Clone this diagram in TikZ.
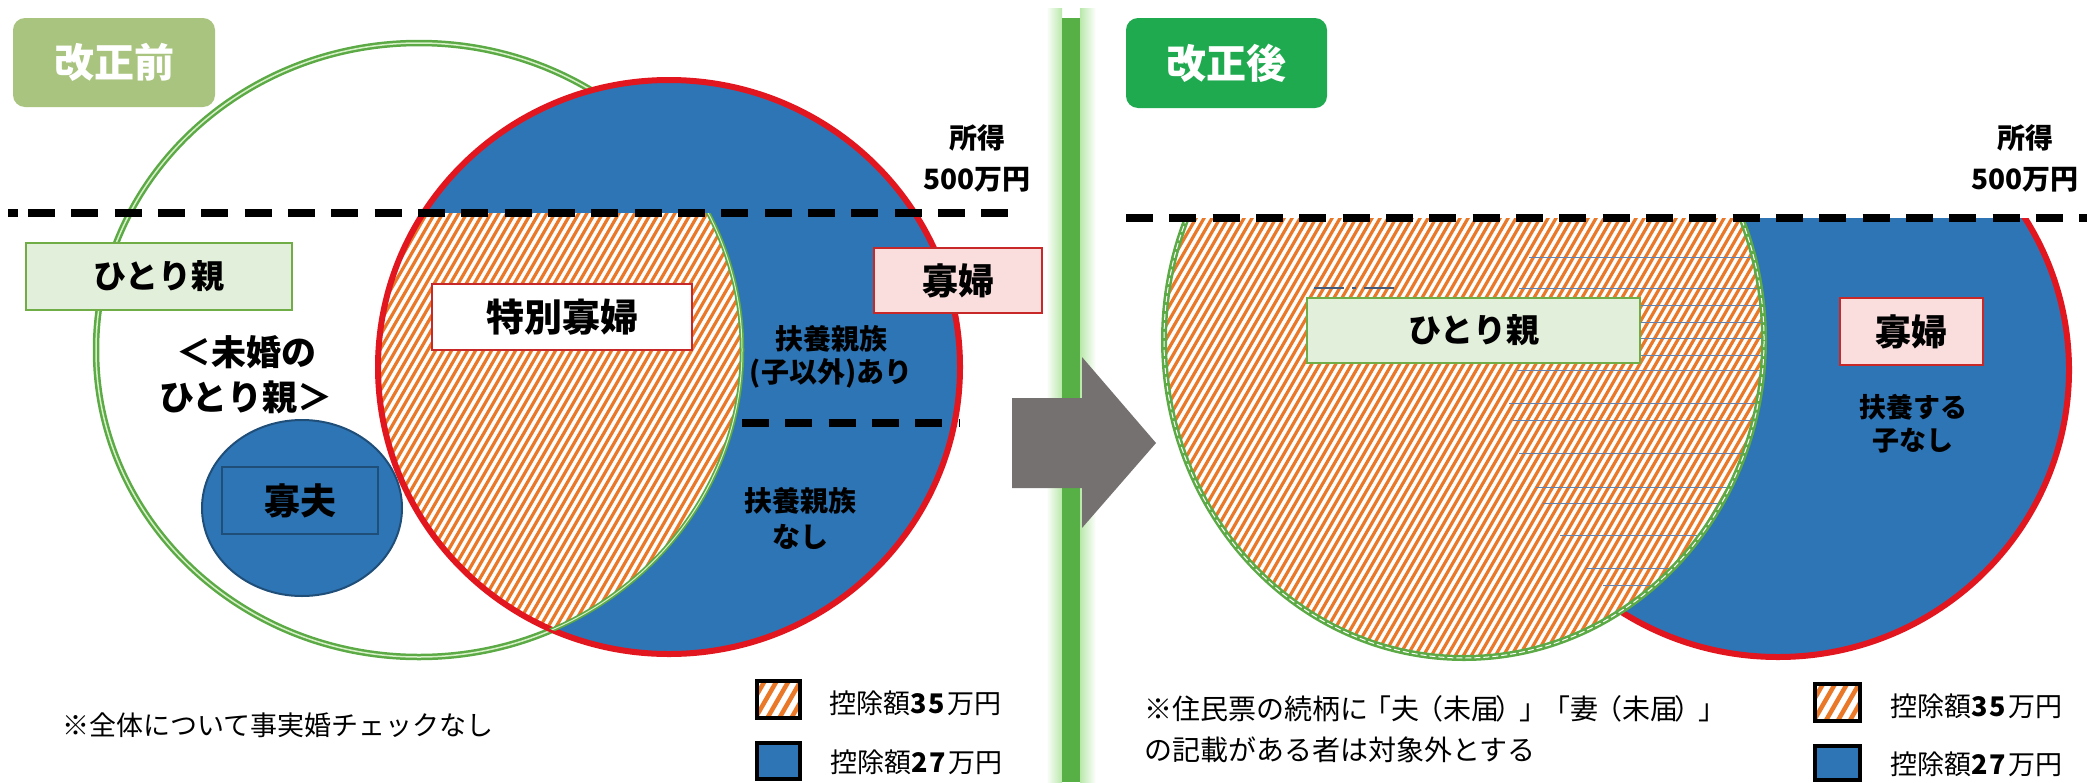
\documentclass[tikz,border=0pt]{standalone}
\usepackage{fontspec}
\setmainfont{Noto Sans CJK JP}
\newcommand\fsz[2]{\fontsize{#1}{#2}\selectfont}
\definecolor{cblue}{RGB}{46,117,182}
\definecolor{cred}{RGB}{226,22,30}
\definecolor{corange}{RGB}{233,120,40}
\definecolor{cgreen}{RGB}{92,170,70}
\definecolor{cgreenin}{RGB}{215,240,200}
\definecolor{clgreen}{RGB}{226,239,218}
\definecolor{cboxgreen}{RGB}{112,173,71}
\definecolor{cpink}{RGB}{250,222,222}
\definecolor{cdred}{RGB}{200,40,40}
\definecolor{cgray}{RGB}{118,113,113}
\definecolor{colive}{RGB}{169,196,127}
\definecolor{cbadge}{RGB}{31,170,80}
\definecolor{cdblue}{RGB}{31,78,121}
\definecolor{cbar}{RGB}{86,176,70}
\definecolor{cglow}{RGB}{185,232,170}
\definecolor{cline}{RGB}{100,130,175}
\begin{document}
\begin{tikzpicture}[x=1pt,y=-1pt,
  txt/.style={inner sep=0pt, align=center, text=black},
  boxg/.style={draw=cboxgreen, fill=clgreen, line width=1.5pt, inner sep=0pt},
  boxp/.style={draw=cdred, fill=cpink, line width=1.5pt, inner sep=0pt},
  badge/.style={fill=#1, rounded corners=12pt, inner sep=0pt, text=white, font=\bfseries\fsz{40}{44}},
  dline/.style={line width=8pt, dash pattern=on 27pt off 16.33pt},
  stripe/.style={corange, line width=3.2pt},
  legbox/.style={draw=black, line width=4.5pt},
  legtxt/.style={anchor=west, inner sep=0pt, font=\fsz{27}{30}},
  note/.style={anchor=west, inner sep=0pt, align=left, font=\fsz{28}{41}}
]
\useasboundingbox (0,0) rectangle (2087,782);
\fill[white] (0,0) rectangle (2087,782);

% ================= LEFT PANEL =================
\draw[cgreen, line width=6.5pt] (419,350) ellipse [x radius=323pt, y radius=307pt];
\draw[cgreenin, line width=1.5pt] (419,350) ellipse [x radius=323pt, y radius=307pt];
\fill[cblue] (669,367) ellipse [x radius=291pt, y radius=287pt];
\begin{scope}
  \clip (0,213) rectangle (1040,782);
  \clip (669,367) ellipse [x radius=291pt, y radius=287pt];
  \clip (419,350) ellipse [x radius=323pt, y radius=307pt];
  \fill[white] (0,213) rectangle (1040,782);
  \foreach \s in {0,8,...,760} \draw[stripe] (\s,800) -- ++(462,-800);
\end{scope}
\draw[cred, line width=6pt] (669,367) ellipse [x radius=291pt, y radius=287pt];
\begin{scope}
  \clip (0,213) rectangle (1040,782);
  \clip (669,367) ellipse [x radius=291pt, y radius=287pt];
  \draw[cgreen, line width=4.5pt] (419,350) ellipse [x radius=323pt, y radius=307pt];
  \draw[cgreenin, line width=1pt] (419,350) ellipse [x radius=323pt, y radius=307pt];
\end{scope}
\draw[line width=8pt] (8,213) -- (18,213);
\draw[dline] (28,213) -- (1012,213);
\draw[dline] (742,423) -- (960,423);

% widower ellipse
\filldraw[fill=cblue, draw=cdblue, line width=2pt] (302,508) ellipse [x radius=100pt, y radius=88pt];
\node[draw=cdblue, line width=1.5pt, minimum width=156pt, minimum height=67pt, inner sep=0pt, font=\bfseries\fsz{36}{40}] (kafu) at (300,500.5) {寡夫};

\node[badge=colive, minimum width=202pt, minimum height=89pt] (before) at (114,62.5) {改正前};
\node[txt, font=\bfseries\fsz{28}{41}] (incL) at (977,158.5) {所得\\500万円};
\node[boxg, minimum width=266pt, minimum height=67pt, font=\bfseries\fsz{33}{36}] (hitoriL) at (159,276.5) {ひとり親};
\node[txt, font=\bfseries\fsz{35}{45}] (mikon) at (246,374.5) {＜未婚の\\ひとり親＞};
\node[draw=cdred, fill=white, line width=1.5pt, inner sep=0pt, minimum width=260pt, minimum height=66pt, font=\bfseries\fsz{38}{40}] (tokubetsu) at (562,317) {特別寡婦};
\node[boxp, minimum width=168pt, minimum height=65pt, font=\bfseries\fsz{36}{40}] (kafuL) at (958,280.5) {寡婦};
\node[txt, font=\bfseries\fsz{28}{33}] (fuyouA) at (831,356.5) {扶養親族\\(子以外)あり};
\node[txt, font=\bfseries\fsz{28}{36}] (fuyouN) at (800,518) {扶養親族\\なし};
\node[note, font=\fsz{27}{41}] (noteL) at (62,725) {※全体について事実婚チェックなし};

% legend left
\begin{scope}
  \clip (757,681) rectangle (800,718);
  \fill[white] (757,681) rectangle (800,718);
  \foreach \s in {660,672,...,780} \draw[corange, line width=4.5pt] (\s,800) -- ++(462,-800);
\end{scope}
\draw[legbox] (757,681) rectangle (800,718);
\filldraw[legbox, fill=cblue] (757,743) rectangle (800,779);
\node[legtxt] (leg1L) at (829,703) {控除額\textbf{3\kern2pt 5}\kern2pt 万円};
\node[legtxt] (leg2L) at (830,762) {控除額\textbf{2\kern2pt 7}\kern2pt 万円};

% ================= DIVIDER + ARROW =================
\shade[left color=white, right color=cglow] (1046,8) rectangle (1062,782);
\shade[left color=cglow, right color=white] (1080,8) rectangle (1096,782);
\fill[cbar] (1062,18) rectangle (1080,782);
\fill[cgray] (1012,398) -- (1082,398) -- (1082,357) -- (1156,443) -- (1082,528) -- (1082,488) -- (1012,488) -- cycle;

% ================= RIGHT PANEL =================
\begin{scope}
  \clip (1100,218) rectangle (2087,782);
  \fill[cblue] (1778,370) ellipse [x radius=291pt, y radius=287pt];
  \draw[cred, line width=6pt] (1778,370) ellipse [x radius=291pt, y radius=287pt];
  \fill[white] (1464,340) ellipse [x radius=300pt, y radius=318pt];
  \begin{scope}
    \clip (1464,340) ellipse [x radius=300pt, y radius=318pt];
    \foreach \s in {820,828,...,1780} \draw[stripe] (\s,800) -- ++(462,-800);
    \foreach \yy/\xa in {257/1529, 288/1519, 305/1640, 322/1640, 338/1640, 355/1640, 370/1517, 403/1509, 420/1513, 453/1519, 487/1536, 503/1543, 535/1560, 568/1586, 585/1603}
      \draw[cline, line width=1pt] (\xa,\yy) -- (1800,\yy);
  \end{scope}
  \draw[cgreen, line width=6pt] (1464,340) ellipse [x radius=300pt, y radius=318pt];
  \draw[white, line width=1pt, dash pattern=on 6pt off 3pt] (1464,340) ellipse [x radius=300pt, y radius=318pt];
\end{scope}
\draw[cline!70!black, line width=1.5pt, dash pattern=on 30pt off 8pt on 4pt off 8pt on 30pt off 20pt] (1314,288) -- (1411,288);
\draw[dline] (1126,218) -- (2087,218);

\node[badge=cbadge, minimum width=201pt, minimum height=90pt] (after) at (1226.5,63) {改正後};
\node[txt, font=\bfseries\fsz{28}{41}] (incR) at (2025,158.5) {所得\\500万円};
\node[boxg, minimum width=333pt, minimum height=65pt, font=\bfseries\fsz{33}{36}] (hitoriR) at (1473.5,330.5) {ひとり親};
\node[boxp, minimum width=143pt, minimum height=67pt, font=\bfseries\fsz{36}{40}] (kafuR) at (1911.5,331.5) {寡婦};
\node[txt, font=\bfseries\fsz{27}{33}] (fuyouR) at (1913,423.5) {扶養する\\子なし};
\node[note] (noteR) at (1144,729.5) {※住民票の続柄に\kern-5pt「夫\kern-4pt（未届\kern-4pt）\kern-4pt」\kern-5pt「妻\kern-4pt（未届\kern-4pt）\kern-4pt」\\の記載がある者は対象外とする};

% legend right
\begin{scope}
  \clip (1815,684) rectangle (1860,721);
  \fill[white] (1815,684) rectangle (1860,721);
  \foreach \s in {1720,1732,...,1840} \draw[corange, line width=4.5pt] (\s,800) -- ++(462,-800);
\end{scope}
\draw[legbox] (1815,684) rectangle (1860,721);
\filldraw[legbox, fill=cblue] (1815,746) rectangle (1860,780);
\node[legtxt] (leg1R) at (1890,706) {控除額\textbf{3\kern2pt 5}\kern2pt 万円};
\node[legtxt] (leg2R) at (1890,764) {控除額\textbf{2\kern2pt 7}\kern2pt 万円};
\end{tikzpicture}
\end{document}
